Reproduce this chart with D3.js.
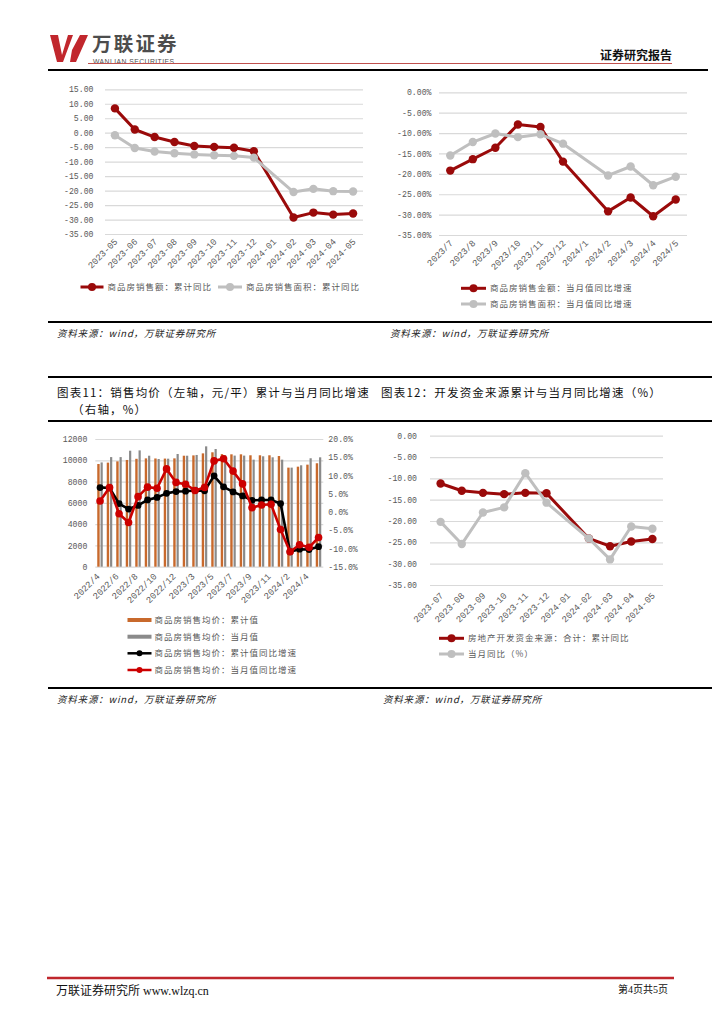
<!DOCTYPE html>
<html><head><meta charset="utf-8">
<script src="https://cdnjs.cloudflare.com/ajax/libs/d3/7.8.5/d3.min.js"></script>
<style>body{margin:0;background:#fff}</style></head>
<body><script>
// ---------- DATA ----------
const c1Cats = ["2023-05","2023-06","2023-07","2023-08","2023-09","2023-10","2023-11","2023-12","2024-01","2024-02","2024-03","2024-04","2024-05"];
const c1Amount = [8.4, 1.1, -1.5, -3.2, -4.6, -4.9, -5.2, -6.4, null, -29.3, -27.6, -28.3, -27.9];
const c1Area = [-0.9, -5.3, -6.5, -7.1, -7.5, -7.8, -8.0, -8.6, null, -20.5, -19.4, -20.2, -20.3];
const c1Ticks = [15,10,5,0,-5,-10,-15,-20,-25,-30,-35];
const c1Legend = ["商品房销售额：累计同比","商品房销售面积：累计同比"];

const c2Cats = ["2023/7","2023/8","2023/9","2023/10","2023/11","2023/12","2024/1","2024/2","2024/3","2024/4","2024/5"];
const c2Amount = [-19.2, -16.4, -13.6, -7.9, -8.5, -17.0, null, -29.2, -25.8, -30.4, -26.3];
const c2Area = [-15.5, -12.2, -10.1, -11.0, -10.3, -12.6, null, -20.4, -18.2, -22.8, -20.7];
const c2Ticks = [0,-5,-10,-15,-20,-25,-30,-35];
const c2Legend = ["商品房销售金额：当月值同比增速","商品房销售面积：当月值同比增速"];

const c3Cats = ["2022/4","2022/5","2022/6","2022/7","2022/8","2022/9","2022/10","2022/11","2022/12","2023/2","2023/3","2023/4","2023/5","2023/6","2023/7","2023/8","2023/9","2023/10","2023/11","2023/12","2024/2","2024/3","2024/4","2024/5"];
const c3CumPrice = [9650, 9780, 9900, 10030, 10140, 10180, 10170, 10160, 10180, 10430, 10460, 10650, 10750, 10580, 10560, 10560, 10470, 10470, 10470, 10400, 9310, 9400, 9590, 9720];
const c3MonPrice = [9800, 10300, 10300, 10900, 10930, 10430, 10120, 10150, 10590, 10430, 10500, 11310, 11060, 10480, 10440, 10440, 10060, 10375, 10280, 10060, 9310, 9530, 10190, 10280];
const c3CumYoY = [6.7, 6.6, 2.3, 0.8, 1.8, 3.3, 4.0, 5.1, 5.6, 5.7, 5.9, 5.8, 9.9, 6.9, 5.5, 4.4, 3.2, 3.3, 3.3, 2.3, -10.9, -10.2, -10.3, -9.5];
const c3MonYoY = [3.0, 6.7, -0.5, -2.9, 4.2, 6.8, 6.5, 11.8, 8.1, 7.6, 5.9, 6.7, 14.0, 14.6, 11.2, 7.7, 1.2, 1.9, 2.1, -4.8, -10.9, -9.0, -9.7, -7.0];
const c3LeftTicks = [0,2000,4000,6000,8000,10000,12000];
const c3RightTicks = [-15,-10,-5,0,5,10,15,20];
const c3Legend = ["商品房销售均价：累计值","商品房销售均价：当月值","商品房销售均价：累计值同比增速","商品房销售均价：当月值同比增速"];

const c4Cats = ["2023-07","2023-08","2023-09","2023-10","2023-11","2023-12","2024-01","2024-02","2024-03","2024-04","2024-05"];
const c4Cum = [-11.2, -12.9, -13.4, -13.7, -13.4, -13.5, null, -24.1, -25.9, -24.8, -24.2];
const c4Mon = [-20.2, -25.4, -18.0, -16.8, -8.8, -15.7, null, -24.1, -29.0, -21.3, -21.8];
const c4Ticks = [0,-5,-10,-15,-20,-25,-30,-35];
const c4Legend = ["房地产开发资金来源：合计：累计同比","当月同比（%）"];

// ---------- SETUP ----------
const CJK = "'Noto Sans CJK SC','Noto Sans',sans-serif";
const MONO = "'Liberation Mono','DejaVu Sans Mono',monospace";
const SERIF = "'Liberation Serif','Noto Sans CJK SC',serif";
const RED = "#9a0a0a", GRAY = "#bfbfbf", GRID = "#d9d9d9", TXT = "#595959";

const svg = d3.select("body").append("svg").attr("width",724).attr("height",1024).style("display","block");
svg.append("rect").attr("width",724).attr("height",1024).attr("fill","#fff");

// ---------- HEADER ----------
svg.append("path").attr("d","M50,35 L58,35 L62,55 L68,35 L73,35 L63,62 L57,62 Z M72,50 L80,35 L88,35 L76,62 L70,62 Z")
  .attr("fill","#c1272d");
svg.append("text").attr("x",92).attr("y",50.5).attr("font-family",CJK).attr("font-weight","bold")
  .attr("font-size",19.5).attr("letter-spacing",2.2).attr("fill","#4d4d4d").text("万联证券");
svg.append("text").attr("x",93).attr("y",63.5).attr("font-family","'Liberation Sans',sans-serif")
  .attr("font-size",6.8).attr("letter-spacing",0.45).attr("fill","#4d4d4d").text("WANLIAN SECURITIES");
svg.append("line").attr("x1",88).attr("x2",672).attr("y1",63.5).attr("y2",63.5).attr("stroke","#c0504d").attr("stroke-width",1);
svg.append("text").attr("x",672).attr("y",60).attr("text-anchor","end").attr("font-family",CJK).attr("font-weight","bold")
  .attr("font-size",12).attr("fill","#111").text("证券研究报告");
svg.append("line").attr("x1",48).attr("x2",708).attr("y1",70).attr("y2",70).attr("stroke","#000").attr("stroke-width",2);

// ---------- TABLE LINES / TEXT ----------
[[322],[377],[421],[688]].forEach(([y])=>{
  svg.append("line").attr("x1",48).attr("x2",712).attr("y1",y).attr("y2",y).attr("stroke","#000").attr("stroke-width",2);
});
function source(x,y){
  svg.append("text").attr("x",x).attr("y",y).attr("font-family",CJK).attr("font-size",9.5).attr("font-style","italic")
    .attr("letter-spacing",0.8).attr("fill","#222").text("资料来源：wind，万联证券研究所");
}
source(57,337); source(390,337); source(57,703); source(383,703);

svg.append("text").attr("x",57).attr("y",397).attr("font-family",CJK).attr("font-size",11.5).attr("letter-spacing",1.2)
  .attr("fill","#111").text("图表11：销售均价（左轴，元/平）累计与当月同比增速");
svg.append("text").attr("x",72).attr("y",414).attr("font-family",CJK).attr("font-size",11.5).attr("letter-spacing",1.2)
  .attr("fill","#111").text("（右轴，%）");
svg.append("text").attr("x",381).attr("y",397).attr("font-family",CJK).attr("font-size",11.5).attr("letter-spacing",1.2)
  .attr("fill","#111").text("图表12：开发资金来源累计与当月同比增速（%）");

// ---------- FOOTER ----------
svg.append("line").attr("x1",47).attr("x2",674).attr("y1",978).attr("y2",978).attr("stroke","#c0272d").attr("stroke-width",2.5);
svg.append("text").attr("x",56).attr("y",995).attr("font-family",SERIF).attr("font-size",12).attr("fill","#111")
  .text("万联证券研究所 www.wlzq.cn");
svg.append("text").attr("x",668).attr("y",993).attr("text-anchor","end").attr("font-family",SERIF).attr("font-size",10).attr("fill","#111")
  .text("第4页共5页");

// ---------- LINE CHART HELPER ----------
function lineChart(o){
  const g = svg.append("g");
  const x = d3.scaleBand().domain(o.cats).range([o.x0,o.x1]);
  const y = d3.scaleLinear().domain(o.yDomain).range([o.yBottom,o.yTop]);
  const ya = g.append("g").attr("transform",`translate(${o.x0},0)`)
    .call(d3.axisLeft(y).tickValues(o.yTicks).tickSize(-(o.x1-o.x0)).tickPadding(o.yPad).tickFormat(o.yFmt));
  ya.select(".domain").remove();
  ya.selectAll("line").attr("stroke",GRID).attr("stroke-width",1.2);
  ya.selectAll("text").attr("font-family",MONO).attr("font-size",8.2).attr("fill",TXT);
  const xa = g.append("g").attr("transform",`translate(0,${o.yBottom})`).call(d3.axisBottom(x).tickSize(0));
  xa.select(".domain").remove();
  xa.selectAll("text").attr("y",0).attr("dy","0.35em").attr("text-anchor","end")
    .attr("transform",`translate(${o.lx},${o.ly}) rotate(-45)`)
    .attr("font-family",MONO).attr("font-size",9).attr("fill",TXT);
  const cx = c => x(c)+x.bandwidth()/2;
  o.series.forEach(s=>{
    const pts = o.cats.map((c,i)=>({c,v:s.values[i]})).filter(d=>d.v!=null);
    g.append("path").datum(pts).attr("fill","none").attr("stroke",s.color).attr("stroke-width",3)
      .attr("stroke-linejoin","round").attr("d",d3.line().x(d=>cx(d.c)).y(d=>y(d.v)));
    g.selectAll(null).data(pts).enter().append("circle").attr("cx",d=>cx(d.c)).attr("cy",d=>y(d.v))
      .attr("r",4.2).attr("fill",s.color);
  });
  o.legend.forEach(l=>{
    g.append("line").attr("x1",l.x).attr("x2",l.x+l.w).attr("y1",l.y).attr("y2",l.y).attr("stroke",l.color).attr("stroke-width",3);
    g.append("circle").attr("cx",l.x+l.w/2).attr("cy",l.y).attr("r",4).attr("fill",l.color);
    g.append("text").attr("x",l.x+l.w+4).attr("y",l.y).attr("dy","0.35em").attr("font-family",CJK)
      .attr("font-size",8.5).attr("letter-spacing",1).attr("fill",TXT).text(l.text);
  });
}

// Chart 1
lineChart({cats:c1Cats, x0:105, x1:363, yTop:89.3, yBottom:234, yDomain:[-35,15], yTicks:c1Ticks,
  yPad:11.5, yFmt:d=>d.toFixed(2), lx:1, ly:6,
  series:[{values:c1Amount,color:RED},{values:c1Area,color:GRAY}],
  legend:[{x:80.5,w:23,y:287,color:RED,text:c1Legend[0]},{x:218,w:24,y:287,color:GRAY,text:c1Legend[1]}]});

// Chart 2
lineChart({cats:c2Cats, x0:439, x1:687, yTop:92.3, yBottom:235, yDomain:[-35,0], yTicks:c2Ticks,
  yPad:7.5, yFmt:d=>d.toFixed(2)+"%", lx:1, ly:6.5,
  series:[{values:c2Amount,color:RED},{values:c2Area,color:GRAY}],
  legend:[{x:461,w:25,y:288.3,color:RED,text:c2Legend[0]},{x:461,w:25,y:304,color:GRAY,text:c2Legend[1]}]});

// Chart 4
lineChart({cats:c4Cats, x0:430, x1:663, yTop:435.7, yBottom:585, yDomain:[-35,0], yTicks:c4Ticks,
  yPad:13, yFmt:d=>d.toFixed(2), lx:1, ly:9,
  series:[{values:c4Cum,color:RED},{values:c4Mon,color:GRAY}],
  legend:[{x:439,w:25,y:638.3,color:RED,text:c4Legend[0]},{x:439,w:25,y:654,color:GRAY,text:c4Legend[1]}]});

// ---------- CHART 3 (bars + lines, dual axis) ----------
(function(){
  const g = svg.append("g");
  const x0 = 95.3, x1 = 323.3, yB = 566.7, yT = 439;
  const x = d3.scaleBand().domain(c3Cats).range([x0,x1]);
  const yL = d3.scaleLinear().domain([0,12000]).range([yB,yT]);
  const yR = d3.scaleLinear().domain([-15,20]).range([yB,yT]);
  const la = g.append("g").attr("transform",`translate(${x0},0)`)
    .call(d3.axisLeft(yL).tickValues(c3LeftTicks).tickSize(-(x1-x0)).tickPadding(8).tickFormat(d=>d));
  la.select(".domain").remove();
  la.selectAll("line").attr("stroke",GRID).attr("stroke-width",1.2);
  la.selectAll("text").attr("font-family",MONO).attr("font-size",8.2).attr("fill",TXT);
  const ra = g.append("g").attr("transform",`translate(${x1},0)`)
    .call(d3.axisRight(yR).tickValues(c3RightTicks).tickSize(0).tickPadding(5).tickFormat(d=>d.toFixed(1)+"%"));
  ra.select(".domain").remove();
  ra.selectAll("text").attr("font-family",MONO).attr("font-size",8.2).attr("fill",TXT);
  const xa = g.append("g").attr("transform",`translate(0,${yB})`)
    .call(d3.axisBottom(x).tickSize(0).tickFormat((d,i)=> i%2===0 ? d : ""));
  xa.select(".domain").remove();
  xa.selectAll("text").attr("y",0).attr("dy","0.35em").attr("text-anchor","end")
    .attr("transform","translate(-2,8) rotate(-45)")
    .attr("font-family",MONO).attr("font-size",9).attr("fill",TXT);
  const cx = c => x(c)+x.bandwidth()/2;
  g.selectAll(null).data(c3Cats).enter().append("rect")
    .attr("x",d=>cx(d)-2.8).attr("width",2.4).attr("y",(d,i)=>yL(c3CumPrice[i])).attr("height",(d,i)=>yB-yL(c3CumPrice[i]))
    .attr("fill","#c8692c");
  g.selectAll(null).data(c3Cats).enter().append("rect")
    .attr("x",d=>cx(d)+0.5).attr("width",2.2).attr("y",(d,i)=>yL(c3MonPrice[i])).attr("height",(d,i)=>yB-yL(c3MonPrice[i]))
    .attr("fill","#8a8a8a");
  [[c3CumYoY,"#000",3.4],[c3MonYoY,"#cc0000",3.8]].forEach(([vals,col,r])=>{
    const pts = c3Cats.map((c,i)=>({c,v:vals[i]}));
    g.append("path").datum(pts).attr("fill","none").attr("stroke",col).attr("stroke-width",2.6)
      .attr("stroke-linejoin","round").attr("d",d3.line().x(d=>cx(d.c)).y(d=>yR(d.v)));
    g.selectAll(null).data(pts).enter().append("circle").attr("cx",d=>cx(d.c)).attr("cy",d=>yR(d.v)).attr("r",r).attr("fill",col);
  });
  const ly = [620,636.7,653.3,670];
  const lx = 127.5, lw = 24;
  g.append("rect").attr("x",lx).attr("y",ly[0]-2).attr("width",lw).attr("height",4).attr("fill","#c8692c");
  g.append("rect").attr("x",lx).attr("y",ly[1]-2).attr("width",lw).attr("height",4).attr("fill","#8a8a8a");
  [[2,"#000"],[3,"#cc0000"]].forEach(([i,col])=>{
    g.append("line").attr("x1",lx).attr("x2",lx+lw).attr("y1",ly[i]).attr("y2",ly[i]).attr("stroke",col).attr("stroke-width",2.5);
    g.append("circle").attr("cx",lx+lw/2).attr("cy",ly[i]).attr("r",3).attr("fill",col);
  });
  c3Legend.forEach((t,i)=>{
    g.append("text").attr("x",lx+lw+3).attr("y",ly[i]).attr("dy","0.35em").attr("font-family",CJK)
      .attr("font-size",8.5).attr("letter-spacing",1).attr("fill",TXT).text(t);
  });
})();
</script></body></html>
